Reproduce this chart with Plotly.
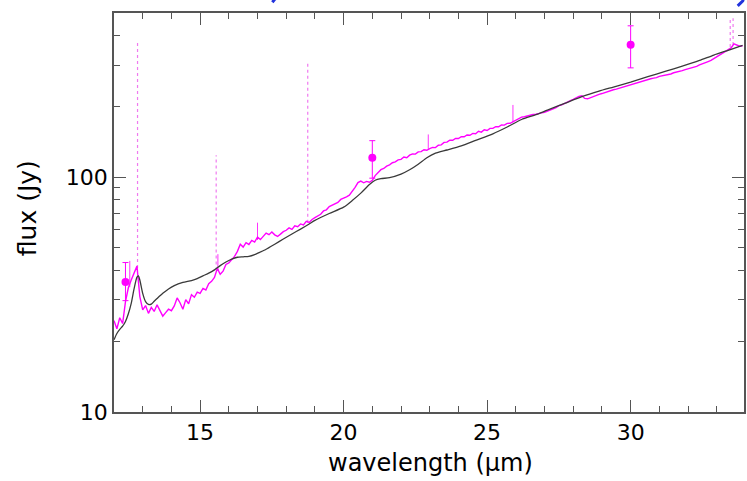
import numpy as np
import plotly.graph_objects as go

# ---------------- data ----------------
# observed spectrum (magenta), sampled every 0.1 micron from 12.0
spec_start = 12.0
spec_step = 0.1
spec_flux = [
    24.5, 22.6, 25.2, 23.8, 29.5, 33.8, 36.5, 39.2, 41.8, 31.0,   # 12.0-12.9
    27.2, 28.4, 26.3, 27.9, 26.8, 28.6, 27.1, 25.6, 26.5, 27.4,   # 13
    27.0, 28.3, 30.6, 29.2, 27.4, 30.1, 28.9, 31.6, 30.8, 32.4,   # 14
    32.0, 33.6, 33.1, 35.2, 36.0, 37.4, 40.9, 38.6, 39.8, 42.5,   # 15
    43.1, 44.6, 46.0, 48.3, 51.8, 50.4, 52.6, 51.7, 53.8, 52.9,   # 16
    55.6, 54.2, 56.3, 57.8, 56.9, 58.4, 56.8, 55.9, 57.2, 58.6,   # 17
    59.4, 60.8, 59.9, 62.0, 61.5, 63.2, 62.6, 64.8, 64.1, 66.0,   # 18
    67.2, 68.6, 69.5, 71.8, 72.6, 74.9, 75.8, 77.3, 78.0, 80.4,   # 19
    81.2, 82.5, 83.8, 86.9, 90.5, 94.8, 96.2, 94.6, 95.9, 95.1,   # 20
    97.0, 101.5, 104.2, 107.6, 108.9, 111.4, 112.8, 115.2, 116.1, 118.4,  # 21
    119.0, 121.8, 120.9, 124.0, 125.6, 125.3, 128.1, 128.5, 130.8, 130.2, # 22
    132.4, 133.9, 133.6, 136.8, 137.3, 140.6, 141.0, 143.8, 143.5, 146.2, # 23
    146.0, 148.6, 148.5, 151.2, 150.8, 153.6, 153.0, 156.8, 155.5, 159.2, # 24
    158.0, 161.4, 161.3, 163.9, 163.8, 167.0, 166.5, 169.4, 169.6, 172.2, # 25
    174.8, 178.5, 180.2, 180.9, 182.6, 183.1, 184.8, 185.5, 186.2, 187.9, # 26
    189.0, 190.6, 192.8, 195.2, 197.5, 201.6, 203.1, 206.3, 209.0, 211.8, # 27
    214.2, 217.8, 220.5, 222.0, 216.4, 215.6, 218.2, 220.8, 223.1, 225.3, # 28
    227.0, 229.4, 231.2, 233.8, 235.6, 236.9, 239.0, 241.5, 242.2, 244.8, # 29
    247.0, 249.6, 251.2, 254.8, 255.5, 258.1, 260.4, 262.3, 264.0, 265.2, # 30
    268.5, 269.8, 272.6, 274.2, 275.0, 278.3, 279.5, 282.6, 284.0, 286.8, # 31
    289.0, 291.4, 294.2, 296.0, 300.5, 303.1, 306.4, 310.6, 314.0, 319.5, # 32
    325.0, 330.5, 336.8, 342.2, 348.6, 355.0, 369.5, 364.0, 361.0, 362.5, # 33
]

# model (black curve)
model_wl = [12.0, 12.1, 12.2, 12.3, 12.4, 12.5, 12.6, 12.7, 12.8, 12.85, 12.9,
            13.0, 13.1, 13.2, 13.3, 13.4, 13.5, 13.7, 13.9, 14.1, 14.4, 14.7,
            14.9, 15.1, 15.3, 15.5, 15.7, 15.9, 16.1, 16.3, 16.5, 16.7, 16.9,
            17.1, 17.3, 17.6, 17.9, 18.2, 18.5, 18.8, 19.0, 19.5, 20.0, 20.3,
            20.6, 20.9, 21.1, 21.3, 21.6, 22.0, 22.3, 22.6, 22.9, 23.2, 23.6,
            24.1, 24.6, 25.2, 25.7, 26.2, 26.7, 27.1, 27.7, 28.3, 28.9, 29.4,
            30.0, 30.6, 31.2, 31.8, 32.4, 32.9, 33.4, 33.9]
model_flux = [20.3, 21.6, 22.5, 23.2, 24.3, 26.2, 29.0, 33.5, 37.5, 38.0, 36.5,
              32.0, 29.5, 28.7, 28.8, 29.6, 30.4, 32.0, 33.4, 34.5, 35.6, 36.3,
              37.0, 38.0, 39.0, 40.3, 42.0, 43.5, 44.8, 45.6, 45.8, 46.0, 46.8,
              48.0, 49.3, 51.8, 54.5, 57.3, 60.1, 63.2, 65.5, 70.0, 74.5, 79.5,
              85.5, 93.0, 97.0, 98.5, 99.5, 103.0, 107.5, 113.5, 121.0, 126.5, 130.5,
              136.0, 143.5, 153.0, 163.5, 176.0, 184.5, 193.0, 206.0, 220.0, 232.5, 242.0,
              254.0, 268.0, 282.0, 297.0, 314.0, 331.0, 347.0, 364.0]

# photometric points with error bars
phot_wl = [12.4, 21.0, 30.0]
phot_flux = [35.8, 121.0, 366.0]
phot_err_hi = [7.5, 22.0, 75.0]
phot_err_lo = [6.0, 22.0, 74.0]

# dotted error spikes in the spectrum
dspike_wl = [12.82, 15.56, 18.75, 33.47, 33.57]
dspike_lo = [41.0, 40.0, 64.0, 358.0, 365.0]
dspike_hi = [377.0, 124.0, 310.0, 470.0, 475.0]

# short solid spikes
sspike_wl = [12.55, 17.0, 22.95, 25.9, 15.62]
sspike_lo = [34.0, 54.0, 131.0, 171.0, 40.0]
sspike_hi = [44.0, 64.0, 152.0, 203.0, 47.0]

x_range = [12.0, 33.95]
y_range = [10, 500]
x_title = "wavelength (\u03bcm)"
y_title = "flux (Jy)"

MAG = "#ff00ff"
AX = "#555555"
FONT = "DejaVu Sans"

spec_wl = [round(spec_start + i * spec_step, 2) for i in range(len(spec_flux))]

fig = go.Figure()

# dotted spikes
for xw, lo, hi in zip(dspike_wl, dspike_lo, dspike_hi):
    fig.add_trace(go.Scatter(x=[xw, xw], y=[lo, hi], mode="lines",
                             line=dict(color="#f07af0", width=1.2, dash="dot"),
                             hoverinfo="skip", showlegend=False))
for xw, lo, hi in zip(sspike_wl, sspike_lo, sspike_hi):
    fig.add_trace(go.Scatter(x=[xw, xw], y=[lo, hi], mode="lines",
                             line=dict(color=MAG, width=1),
                             opacity=0.8, hoverinfo="skip", showlegend=False))

# spectrum
fig.add_trace(go.Scatter(x=spec_wl, y=spec_flux, mode="lines",
                         line=dict(color=MAG, width=1.4), showlegend=False))

# model
fig.add_trace(go.Scatter(x=model_wl, y=model_flux, mode="lines",
                         line=dict(color="#3a3a3a", width=1.3, shape="spline", smoothing=0.6),
                         showlegend=False))

# photometry
fig.add_trace(go.Scatter(x=phot_wl, y=phot_flux, mode="markers",
                         marker=dict(color=MAG, size=8),
                         error_y=dict(type="data", symmetric=False,
                                      array=phot_err_hi, arrayminus=phot_err_lo,
                                      color=MAG, thickness=1, width=3),
                         showlegend=False))

fig.update_layout(
    width=747, height=481,
    margin=dict(l=114, r=1, t=13, b=69),
    paper_bgcolor="white", plot_bgcolor="white",
    font=dict(family=FONT, size=22, color="black"),
    showlegend=False,
)

fig.update_xaxes(
    range=x_range, showgrid=False, zeroline=False,
    showline=True, linecolor=AX, linewidth=1.5, mirror="allticks",
    ticks="inside", ticklen=12, tickwidth=1, tickcolor=AX,
    tick0=0, dtick=5,
    minor=dict(ticks="inside", ticklen=6, dtick=1, tick0=0, tickcolor=AX, showgrid=False),
    tickfont=dict(family=FONT, size=22, color="black"),
)
fig.update_yaxes(
    type="log", range=[np.log10(y_range[0]), np.log10(y_range[1])],
    showgrid=False, zeroline=False,
    showline=True, linecolor=AX, linewidth=1.5, mirror="allticks",
    ticks="inside", ticklen=12, tickwidth=1, tickcolor=AX,
    tickvals=[10, 100], ticktext=["10", "100"],
    minor=dict(ticks="inside", ticklen=6, tickcolor=AX, showgrid=False,
               tickvals=[20, 30, 40, 50, 60, 70, 80, 90, 200, 300, 400]),
    tickfont=dict(family=FONT, size=22, color="black"),
)

fig.add_annotation(text=x_title, xref="paper", yref="paper", x=0.5016, y=-0.128,
                   xanchor="center", yanchor="middle", showarrow=False,
                   font=dict(family=FONT, size=24, color="black"))
fig.add_annotation(text=y_title, xref="paper", yref="paper", x=-0.138, y=0.511,
                   xanchor="center", yanchor="middle", showarrow=False, textangle=-90,
                   font=dict(family=FONT, size=25, color="black"))

# blue fragments visible at the very top edge of the source image
fig.add_shape(type="path", xref="paper", yref="paper",
              path="M 0.2513,1.027 L 0.2560,1.036 L 0.2780,1.040",
              line=dict(color="#2233dd", width=3))
fig.add_shape(type="path", xref="paper", yref="paper",
              path="M 0.9900,1.018 L 0.9980,1.030 L 1.0,1.040",
              line=dict(color="#2233dd", width=3))

fig.write_html("out.html")
